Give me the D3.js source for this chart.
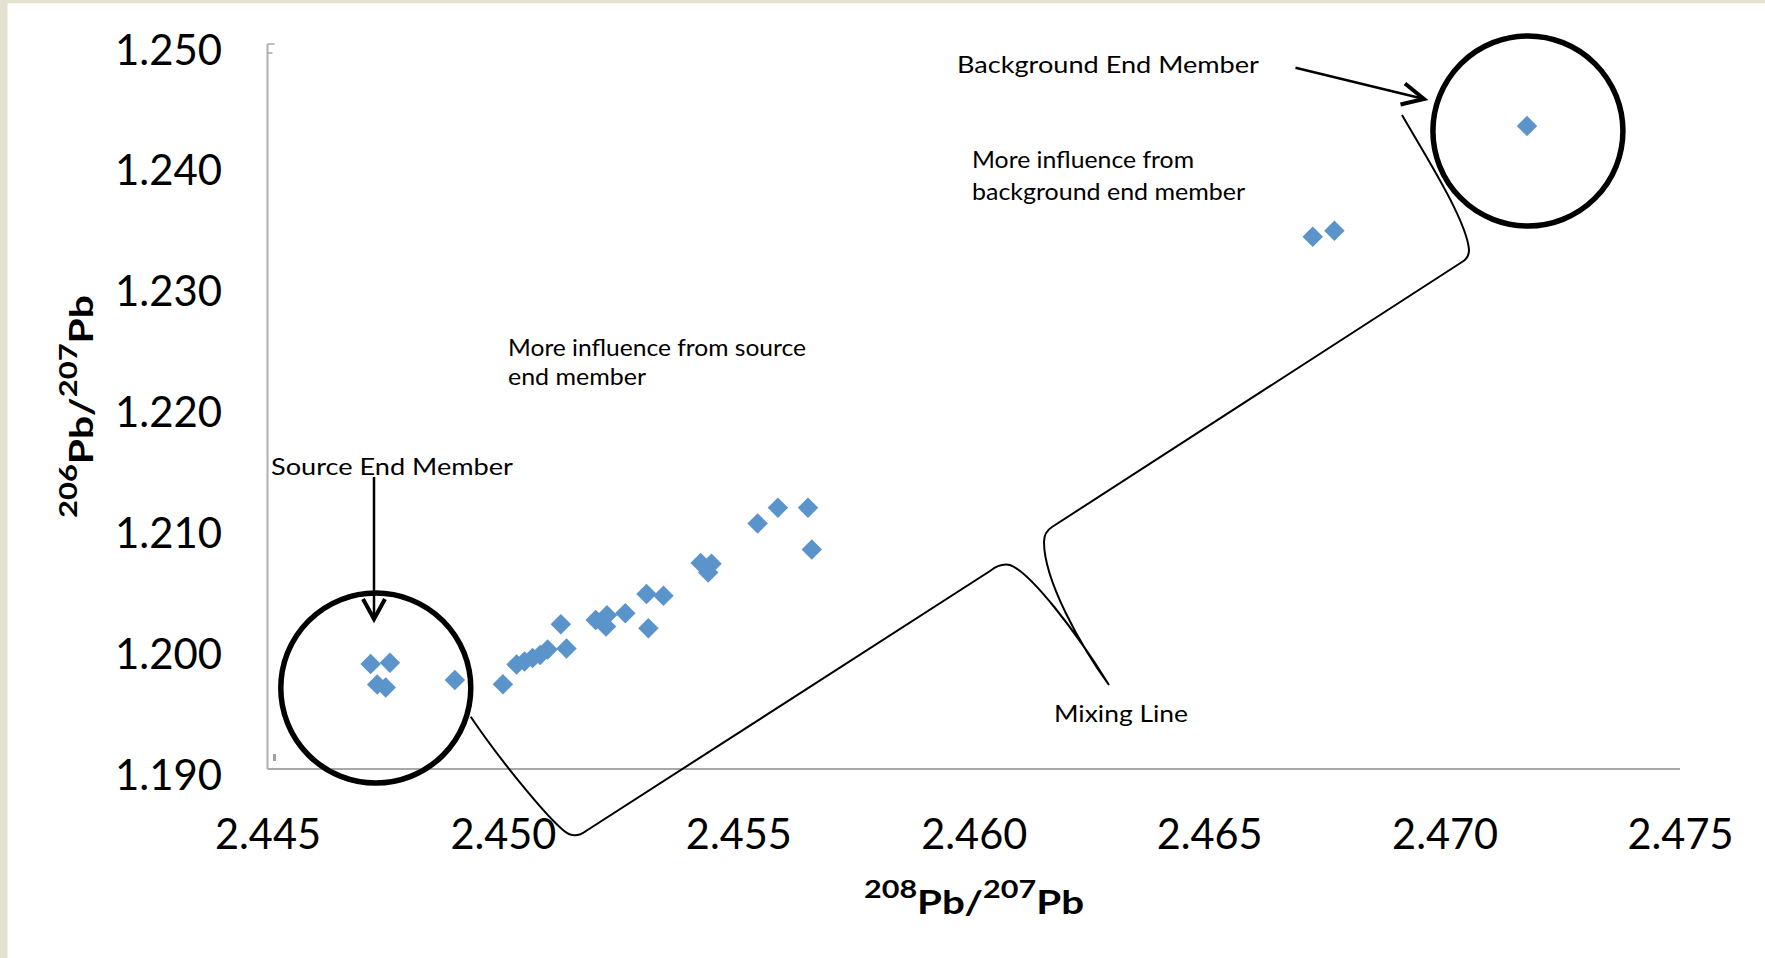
<!DOCTYPE html>
<html><head><meta charset="utf-8">
<script src="https://cdn.jsdelivr.net/npm/d3@7"></script>
<style>html,body{margin:0;padding:0;background:#fff;} svg{display:block;}</style>
</head><body>
<svg id="chart" width="1765" height="958"></svg>
<script>
// ---- data (208Pb/207Pb, 206Pb/207Pb) ----
const xValues = [2.44719, 2.44760, 2.44733, 2.44751, 2.44898,
  2.45000, 2.45029, 2.45046, 2.45063, 2.45079, 2.45095, 2.45123, 2.45135,
  2.45197, 2.45219, 2.45221, 2.45260, 2.45305, 2.45341, 2.45309,
  2.45420, 2.45443, 2.45436, 2.45541, 2.45584, 2.45648, 2.45656,
  2.46720, 2.46766, 2.47175];
const yValues = [1.19869, 1.19879, 1.19699, 1.19674, 1.19737,
  1.19701, 1.19865, 1.19890, 1.19919, 1.19943, 1.19989, 1.20198, 1.19997,
  1.20233, 1.20179, 1.20272, 1.20289, 1.20448, 1.20434, 1.20164,
  1.20705, 1.20698, 1.20626, 1.21032, 1.21163, 1.21163, 1.20817,
  1.23405, 1.23454, 1.24321];
const xTicks = [2.445, 2.450, 2.455, 2.460, 2.465, 2.470, 2.475];
const yTicks = [1.190, 1.200, 1.210, 1.220, 1.230, 1.240, 1.250];
const xDomain = [2.445, 2.475];
const yDomain = [1.190, 1.250];
const sourceCircleCenter = [2.44730, 1.19670];
const backgroundCircleCenter = [2.47177, 1.24280];

// ---- layout ----
const svg = d3.select('#chart');
const FONT = 'Lato, "Open Sans", sans-serif';
svg.append('rect').attr('x',0).attr('y',0).attr('width',1765).attr('height',958).attr('fill','#fff');
svg.append('rect').attr('x',0).attr('y',0).attr('width',7.5).attr('height',958).attr('fill','#E4E1D1');
svg.append('rect').attr('x',0).attr('y',0).attr('width',1765).attr('height',3.3).attr('fill','#E4E1D1');

const x = d3.scaleLinear().domain(xDomain).range([267.5, 1680]);
const y = d3.scaleLinear().domain(yDomain).range([769, 44]);

// axes labels
const gx = svg.append('g').attr('transform', `translate(0,${y(yDomain[0])})`)
  .call(d3.axisBottom(x).tickValues(xTicks).tickFormat(d3.format('.3f')).tickSize(0).tickPadding(0));
gx.select('.domain').remove();
gx.selectAll('.tick line').remove();
gx.selectAll('text').attr('dy', null).attr('y', 80)
  .attr('font-family', FONT).attr('font-size', 43).attr('fill', '#000')
  .attr('textLength', 106).attr('lengthAdjust', 'spacingAndGlyphs');

const gy = svg.append('g').attr('transform', 'translate(222,0)')
  .call(d3.axisLeft(y).tickValues(yTicks).tickFormat(d3.format('.3f')).tickSize(0).tickPadding(0));
gy.select('.domain').remove();
gy.selectAll('.tick line').remove();
gy.selectAll('text').attr('dy', null).attr('y', 20).attr('x', 0)
  .attr('font-family', FONT).attr('font-size', 43).attr('fill', '#000')
  .attr('textLength', 107).attr('lengthAdjust', 'spacingAndGlyphs');

// axis lines
svg.append('line').attr('x1', x(xDomain[0])).attr('x2', x(xDomain[1]))
  .attr('y1', y(yDomain[0])).attr('y2', y(yDomain[0]))
  .attr('stroke', '#A8A8A8').attr('stroke-width', 2);
svg.append('line').attr('x1', x(xDomain[0])).attr('x2', x(xDomain[0]))
  .attr('y1', y(yDomain[1])).attr('y2', y(yDomain[0]))
  .attr('stroke', '#B0B0B0').attr('stroke-width', 2);
svg.append('line').attr('x1', x(xDomain[0])).attr('x2', x(xDomain[0]) + 7)
  .attr('y1', y(yDomain[1])).attr('y2', y(yDomain[1]))
  .attr('stroke', '#A8A8A8').attr('stroke-width', 1.5);
svg.append('line').attr('x1', x(xDomain[0])).attr('x2', x(xDomain[0]) + 5)
  .attr('y1', y(yDomain[1]) + 9).attr('y2', y(yDomain[1]) + 9)
  .attr('stroke', '#A8A8A8').attr('stroke-width', 1.5);
svg.append('rect').attr('x', x(xDomain[0]) + 5.5).attr('y', y(yDomain[0]) - 15)
  .attr('width', 3).attr('height', 7).attr('fill', '#A0A0A0');

// axis titles
const xt = svg.append('text').attr('x', 974).attr('y', 914).attr('text-anchor', 'middle')
  .attr('font-family', FONT).attr('font-weight', 700).attr('fill', '#000')
  .attr('textLength', 220).attr('lengthAdjust', 'spacingAndGlyphs');
xt.append('tspan').attr('font-size', 25).attr('dy', -16).text('208');
xt.append('tspan').attr('font-size', 33).attr('dy', 16).text('Pb/');
xt.append('tspan').attr('font-size', 25).attr('dy', -16).text('207');
xt.append('tspan').attr('font-size', 33).attr('dy', 16).text('Pb');

const yt = svg.append('text').attr('transform', 'translate(93,406.5) rotate(-90)')
  .attr('x', 0).attr('y', 0).attr('text-anchor', 'middle')
  .attr('font-family', FONT).attr('font-weight', 700).attr('fill', '#000')
  .attr('textLength', 223).attr('lengthAdjust', 'spacingAndGlyphs');
yt.append('tspan').attr('font-size', 25).attr('dy', -16).text('206');
yt.append('tspan').attr('font-size', 33).attr('dy', 16).text('Pb/');
yt.append('tspan').attr('font-size', 25).attr('dy', -16).text('207');
yt.append('tspan').attr('font-size', 33).attr('dy', 16).text('Pb');

// data points
svg.append('g').selectAll('path').data(d3.zip(xValues, yValues)).join('path')
  .attr('d', d3.symbol(d3.symbolSquare, 210))
  .attr('transform', d => `translate(${x(d[0])},${y(d[1])}) rotate(45)`)
  .attr('fill', '#5A94CA');

// annotation circles
[sourceCircleCenter, backgroundCircleCenter].forEach(c => {
  svg.append('circle').attr('cx', x(c[0])).attr('cy', y(c[1])).attr('r', 95)
    .attr('fill', 'none').attr('stroke', '#000').attr('stroke-width', 5.5);
});

// mixing line brace
svg.append('path')
  .attr('d', 'M470.7,716.7 C500,760 545,815 563,830 Q574,840 586,831 L990,571 Q1000,563 1010,565 C1030,572 1075,630 1109,685 C1080,645 1044,580 1044,542 Q1044,532 1052,527 L1462,262 Q1469,258 1469,250 C1467,220 1422,150 1402,115')
  .attr('fill', 'none').attr('stroke', '#000').attr('stroke-width', 2);

// arrows
svg.append('line').attr('x1', 374).attr('y1', 477).attr('x2', 374).attr('y2', 617)
  .attr('stroke', '#000').attr('stroke-width', 2.5);
svg.append('path').attr('d', 'M363,599 L374,619 L385,599')
  .attr('fill', 'none').attr('stroke', '#000').attr('stroke-width', 4);
svg.append('line').attr('x1', 1295.5).attr('y1', 67.7).attr('x2', 1421).attr('y2', 98.3)
  .attr('stroke', '#000').attr('stroke-width', 2.5);
svg.append('path').attr('d', 'M1405,83.5 L1424,99 L1400.5,104.5')
  .attr('fill', 'none').attr('stroke', '#000').attr('stroke-width', 4);

// annotation texts
const notes = [
  {t: 'Background End Member', x: 957, y: 73, w: 302},
  {t: 'More influence from', x: 972, y: 168, w: 222},
  {t: 'background end member', x: 972, y: 200, w: 273},
  {t: 'More influence from source', x: 508, y: 356, w: 298},
  {t: 'end member', x: 508, y: 385, w: 138},
  {t: 'Source End Member', x: 271, y: 475, w: 242},
  {t: 'Mixing Line', x: 1054, y: 722, w: 134}
];
svg.append('g').selectAll('text').data(notes).join('text')
  .attr('x', d => d.x).attr('y', d => d.y).text(d => d.t)
  .attr('font-family', FONT).attr('font-size', 23).attr('fill', '#000')
  .attr('textLength', d => d.w).attr('lengthAdjust', 'spacingAndGlyphs');
</script>
</body></html>
